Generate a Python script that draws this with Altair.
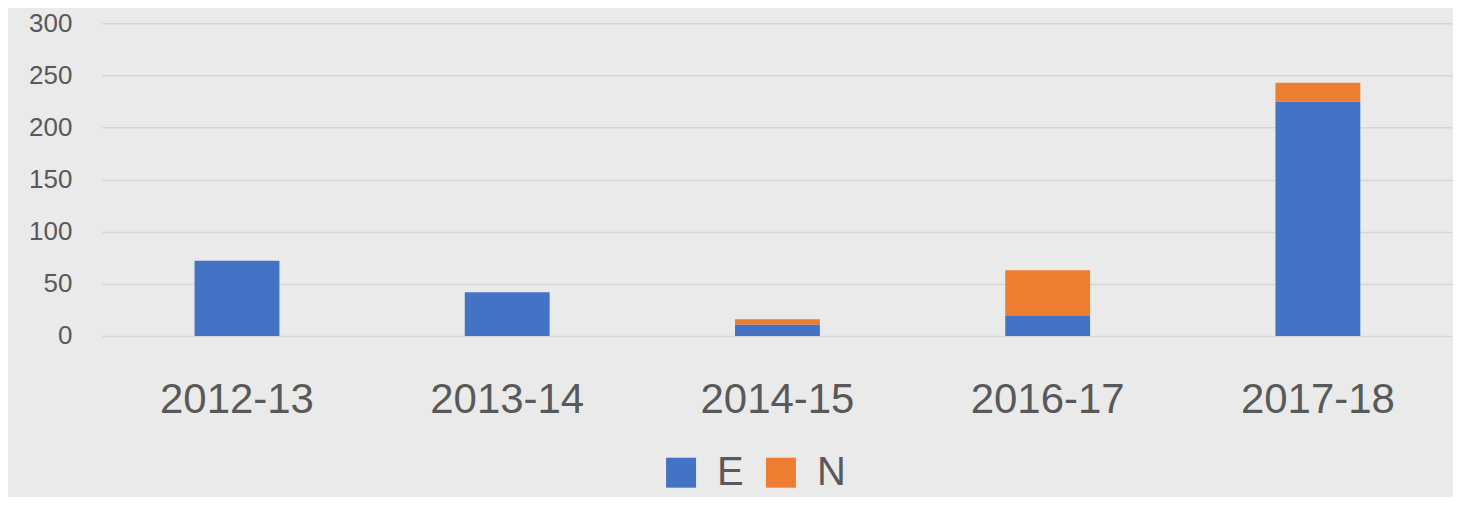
import altair as alt
import pandas as pd

categories = ["2012-13", "2013-14", "2014-15", "2016-17", "2017-18"]
series_names = ["E", "N"]
e_values = [72, 42, 11, 19, 225]
n_values = [0, 0, 5, 44, 18]
y_ticks = [0, 50, 100, 150, 200, 250, 300]

rows = []
for c, e, n in zip(categories, e_values, n_values):
    rows.append({"period": c, "series": "E", "value": e, "ord": 0})
    rows.append({"period": c, "series": "N", "value": n, "ord": 1})
df = pd.DataFrame(rows)

FONT = "Liberation Sans"
TXT = "#595959"

chart = alt.Chart(df).mark_bar().encode(
    x=alt.X("period:N", sort=categories, title=None,
            scale=alt.Scale(paddingInner=0.686, paddingOuter=0.343),
            axis=alt.Axis(labelAngle=0, labelFontSize=42, labelFont=FONT,
                          labelColor=TXT, ticks=False, domain=False,
                          labelPadding=44, grid=False)),
    y=alt.Y("value:Q", stack="zero", title=None,
            scale=alt.Scale(domain=[0, 300], nice=False),
            axis=alt.Axis(values=y_ticks, labelFontSize=26, labelFont=FONT,
                          labelColor=TXT, ticks=False, domain=False,
                          labelPadding=30, gridColor="#d6d6d6", gridWidth=1.5)),
    color=alt.Color("series:N", sort=series_names,
                    scale=alt.Scale(domain=series_names, range=["#4472C4", "#ED7D31"]),
                    legend=alt.Legend(title=None, orient="none", direction="horizontal",
                                      legendX=560, legendY=430,
                                      symbolType="square", symbolSize=900,
                                      symbolStrokeWidth=0, symbolOpacity=1,
                                      labelFontSize=40, labelFont=FONT,
                                      labelColor=TXT, labelOffset=16,
                                      columnPadding=17)),
    order=alt.Order("ord:Q", sort="ascending"),
).properties(
    width=1353,
    height=313,
    background="#eaeaea",
    padding={"left": 94, "top": 15, "right": 0, "bottom": 161},
    autosize=alt.AutoSizeParams(type="none"),
).configure_view(stroke=None)

chart.save("out.html", embed_options={"renderer": "svg", "actions": False})
